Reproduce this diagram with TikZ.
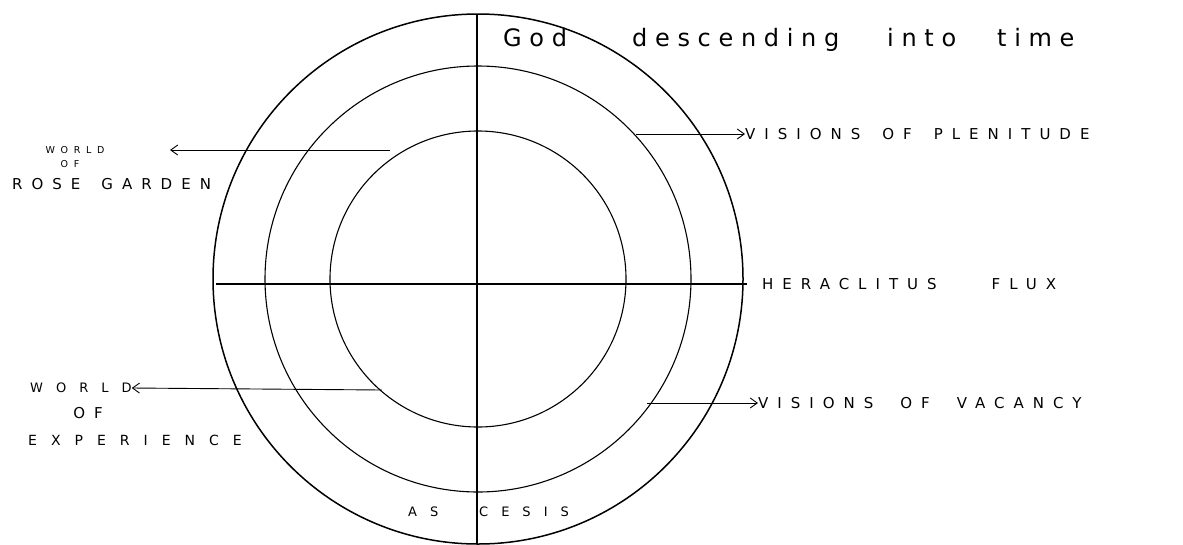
\documentclass[tikz,border=0pt]{standalone}
\usepackage{fontspec}
\usetikzlibrary{arrows.meta}
\newfontfamily\capsfont[LetterSpace=60]{DejaVu Sans}
\newfontfamily\widecapsfont[LetterSpace=100]{DejaVu Sans}
\newfontfamily\handfont[LetterSpace=32]{DejaVu Sans}
\begin{document}
\begin{tikzpicture}[x=1pt,y=-1pt,
  ring/.style={line width=1.1pt},
  outerring/.style={line width=1.5pt},
  axis/.style={line width=1.1pt},
  pointer/.style={line width=0.9pt,-{Straight Barb[length=7pt,width=10pt]}},
  caps/.style={font=\capsfont\fontsize{15}{17}\selectfont,inner sep=0pt},
  widecaps/.style={font=\widecapsfont\fontsize{13}{16}\selectfont,inner sep=0pt},
  widercaps/.style={font=\widecapsfont\fontsize{14}{16}\selectfont,inner sep=0pt},
  smallcaps/.style={font=\capsfont\fontsize{9.5}{12}\selectfont,inner sep=0pt},
  hand/.style={font=\handfont\fontsize{24}{28}\selectfont,inner sep=0pt,anchor=base west}]
\useasboundingbox (0,0) rectangle (1183,544);
\fill[white] (0,0) rectangle (1183,544);

% centre and axis end points
\coordinate (C) at (478,279);
\coordinate (top) at (477,14);
\coordinate (bottom) at (477,544);
\coordinate (left) at (216,284);
\coordinate (right) at (747,284);

% rings
\draw[outerring] (C) circle[radius=265pt];
\draw[ring] (C) circle[radius=213pt];
\draw[ring] (C) circle[radius=148pt];

% axes
\draw[axis] (top) -- (bottom);
\draw[axis] (left) -- (right);

% title
\node[hand] (god) at (503,46) {God};
\node[hand] (desc) at (632,46) {descending};
\node[hand] (into) at (887,46) {into};
\node[hand] (time) at (997,46) {time};

% upper left label
\node[smallcaps] (w1) at (75,150) {WORLD};
\node[smallcaps] (o1) at (70,164) {OF};
\node[caps,anchor=west] (r1) at (12,184) {ROSE\kern21pt GARDEN};
\coordinate (a1s) at (390,150);
\coordinate (a1e) at (170,150);
\draw[pointer] (a1s) -- (a1e);

% upper right label
\coordinate (a2s) at (636,134);
\node[caps,anchor=west] (vp) at (745,134) {VISIONS\kern22pt OF\kern22pt PLENITUDE};
\draw[pointer] (a2s) -- (vp.west);

% middle right label
\node[caps,anchor=west] (hf) at (762,284) {HERACLITUS\kern55pt FLUX};

% lower left label
\node[widecaps,anchor=west] (w2) at (30,388) {WORLD};
\node[caps] (o2) at (88,413) {OF};
\node[widercaps,anchor=west] (e2) at (28,440) {EXPERIENCE};
\coordinate (a3s) at (382,390);
\draw[pointer] (a3s) -- (w2.east);

% lower right label
\coordinate (a4s) at (647,403);
\node[caps,anchor=west] (vv) at (758,403) {VISIONS\kern27pt OF\kern27pt VACANCY};
\draw[pointer] (a4s) -- (vv.west);

% bottom label
\node[widecaps,anchor=west] (as) at (408,512) {AS};
\node[widecaps,anchor=west] (ce) at (479,512) {CESIS};
\end{tikzpicture}
\end{document}
